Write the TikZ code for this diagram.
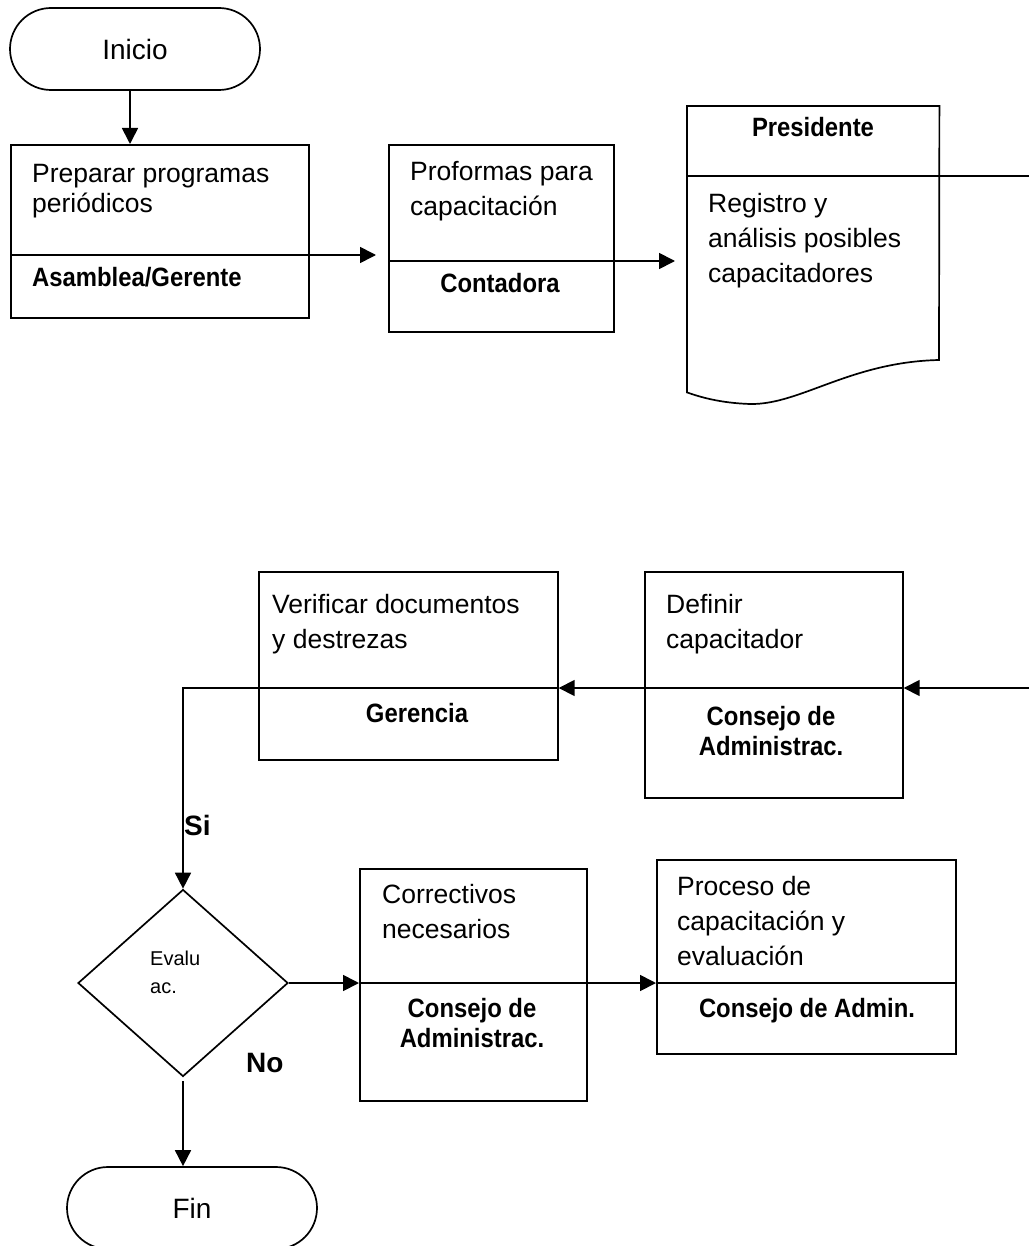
\documentclass[tikz,border=0pt]{standalone}
\usepackage{fontspec}
\setmainfont{Liberation Sans}
\newfontfamily\whofont{Liberation Sans}[FakeStretch=0.9]
\usetikzlibrary{shapes.geometric, arrows.meta, positioning}

\begin{document}
\begin{tikzpicture}[x=1pt, y=-1pt,
  line/.style={line width=1.7pt},
  box/.style={draw, line width=1.7pt, rectangle, anchor=north west, inner sep=0pt},
  term/.style={draw, line width=1.7pt, rounded corners=41pt, minimum width=250pt, minimum height=82pt, inner sep=0pt, font=\fontsize{28pt}{28pt}\selectfont},
  txt/.style={anchor=north west, align=left, inner sep=0pt, font=\fontsize{26.5pt}{35pt}\selectfont},
  who/.style={align=center, inner sep=0pt, font=\whofont\bfseries\fontsize{26.5pt}{30pt}\selectfont},
  answer/.style={anchor=base west, inner sep=0pt, font=\bfseries\fontsize{28pt}{28pt}\selectfont},
  arr/.style={-{Triangle[length=16pt,width=16pt]}, line width=1.7pt}]
\useasboundingbox (0,0) rectangle (1028,1246);

% start
\node[term] (inicio) at (135,49) {Inicio};

% first row
\node[box, minimum width=298pt, minimum height=173pt] (prep) at (10,144) {};
\node[txt, font=\fontsize{26.5pt}{30pt}\selectfont] (prepTxt) at (32,164) {Preparar programas\\periódicos};
\node[who, anchor=base west] (prepWho) at (32,287) {Asamblea/Gerente};
\draw[line] ([yshift=-111pt]prep.north west) -- ([yshift=-111pt]prep.north east);

\node[box, minimum width=225pt, minimum height=187pt] (prof) at (388,144) {};
\node[txt] (profTxt) at (410,161) {Proformas para\\capacitación};
\node[who, anchor=base] (profWho) at (500,292) {Contadora};
\draw[line] ([yshift=-117pt]prof.north west) -- ([yshift=-117pt]prof.north east);

% document with wavy bottom
\node[anchor=north west, minimum width=252pt, minimum height=286pt, inner sep=0pt] (reg) at (687,106) {};
\draw[line] (reg.north west) -- (reg.north east) -- (939,360)
  .. controls (850,362) and (800,405) .. (750,404)
  .. controls (720,403) and (700,397) .. (reg.south west) -- cycle;
\draw[line] ([yshift=-70pt]reg.north west) -- ([yshift=-70pt]reg.north east);
\node[who, anchor=base] (regWho) at (813,137) {Presidente};
\node[txt] (regTxt) at (708,193) {Registro y\\análisis posibles\\capacitadores};

% second row
\node[box, minimum width=258pt, minimum height=226pt] (defin) at (644,571) {};
\node[txt] (definTxt) at (666,594) {Definir\\capacitador};
\node[who, anchor=north] (definWho) at (771,706) {Consejo de\\Administrac.};
\draw[line] ([yshift=-117pt]defin.north west) -- ([yshift=-117pt]defin.north east);

\node[box, minimum width=299pt, minimum height=188pt] (verif) at (258,571) {};
\node[txt] (verifTxt) at (272,594) {Verificar documentos\\y destrezas};
\node[who, anchor=base] (verifWho) at (417,722) {Gerencia};
\draw[line] ([yshift=-117pt]verif.north west) -- ([yshift=-117pt]verif.north east);

% decision
\node[diamond, draw, line width=1.7pt, minimum width=210pt, minimum height=187pt, inner sep=0pt] (eval) at (183,983) {};
\node[anchor=north west, align=left, inner sep=0pt, font=\fontsize{20pt}{28pt}\selectfont] (evalTxt) at (150,951) {Evalu\\ac.};
\node[answer] (si) at (184,835) {Si};
\node[answer] (no) at (246,1072) {No};

% third row
\node[box, minimum width=227pt, minimum height=232pt] (correc) at (359,868) {};
\node[txt] (correcTxt) at (382,884) {Correctivos\\necesarios};
\node[who, anchor=north] (correcWho) at (472,998) {Consejo de\\Administrac.};
\draw[line] ([yshift=-115pt]correc.north west) -- ([yshift=-115pt]correc.north east);

\node[box, minimum width=299pt, minimum height=194pt] (proc) at (656,859) {};
\node[txt] (procTxt) at (677,876) {Proceso de\\capacitación y\\evaluación};
\node[who, anchor=base] (procWho) at (807,1017) {Consejo de Admin.};
\draw[line] ([yshift=-124pt]proc.north west) -- ([yshift=-124pt]proc.north east);

% end
\node[term] (fin) at (192,1208) {Fin};

% connectors
\coordinate (offpage) at (1040,400);
\draw[arr] ([xshift=-5pt]inicio.south) -- ([xshift=-5pt]inicio.south |- prep.north);
\draw[arr, shorten >=12pt] ([yshift=-111pt]prep.north east) -- ([yshift=-111pt]prep.north east -| prof.west);
\draw[arr, shorten >=12pt] ([yshift=-117pt]prof.north east) -- ([yshift=-117pt]prof.north east -| reg.west);
\draw[arr] ([yshift=-70pt]reg.north east) -| (offpage) |- ([yshift=-117pt]defin.north east);
\draw[arr] ([yshift=-117pt]defin.north west) -- ([yshift=-117pt]defin.north west -| verif.east);
\draw[arr] ([yshift=-117pt]verif.north west) -| (eval.north);
\draw[arr] (eval.east) -- (eval.east -| correc.west);
\draw[arr] ([yshift=-115pt]correc.north east) -- ([yshift=-115pt]correc.north east -| proc.west);
\draw[arr, shorten <=4pt] (eval.south) -- (eval.south |- fin.north);
\end{tikzpicture}
\end{document}
